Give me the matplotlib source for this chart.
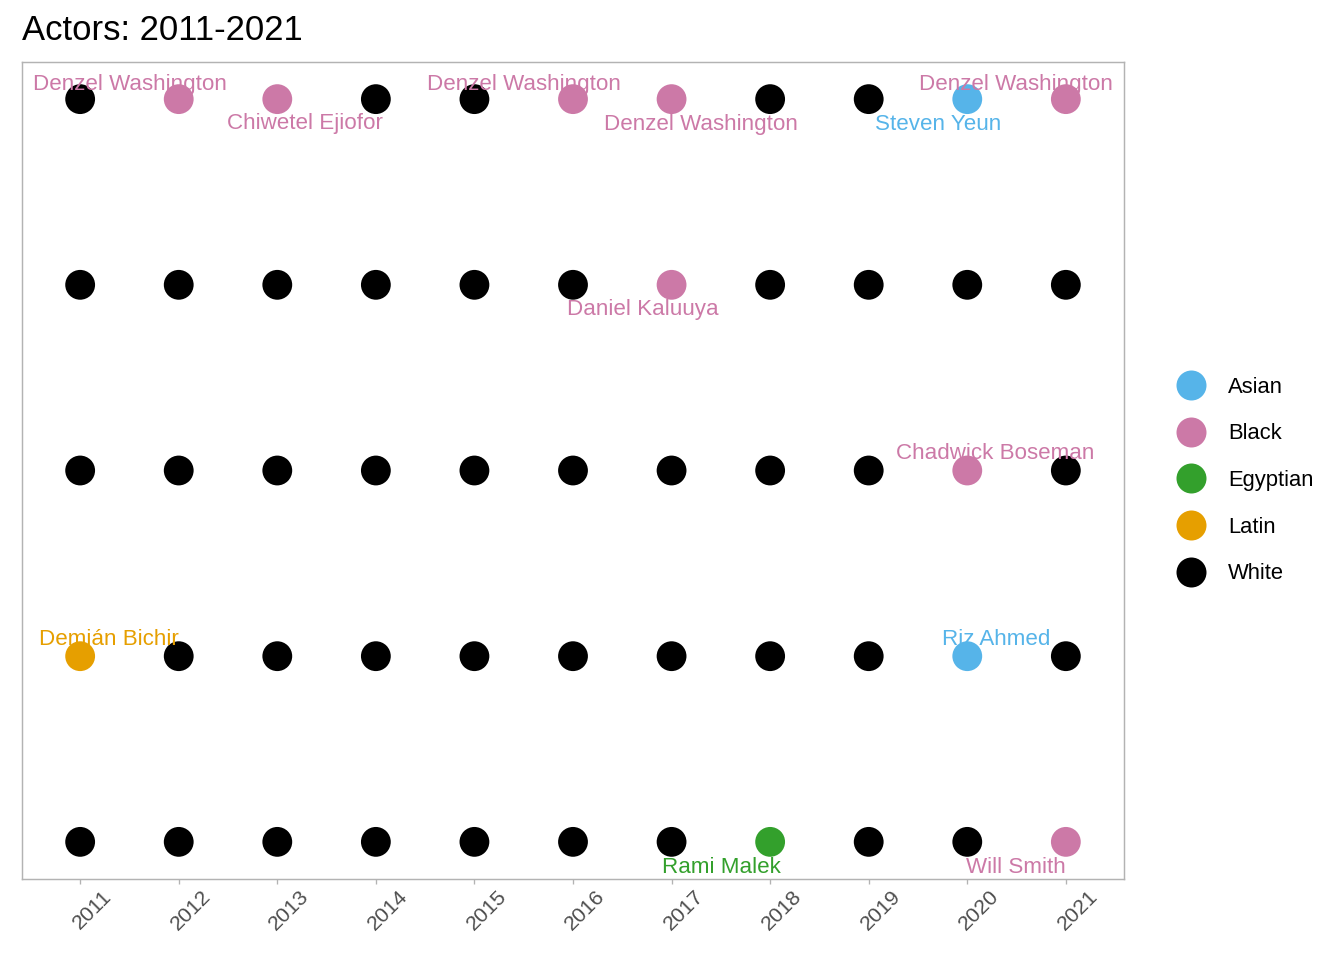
import numpy as np
import matplotlib
matplotlib.use("Agg")
import matplotlib.pyplot as plt
import matplotlib.transforms as mtransforms
from matplotlib.lines import Line2D

plt.rcParams['font.family'] = ['Liberation Sans', 'DejaVu Sans']

years = [2011, 2012, 2013, 2014, 2015, 2016, 2017, 2018, 2019, 2020, 2021]

# race of the 5 nominees per year, listed top row to bottom row
races = [
    ["White", "White", "White", "Latin", "White"],
    ["Black", "White", "White", "White", "White"],
    ["Black", "White", "White", "White", "White"],
    ["White", "White", "White", "White", "White"],
    ["White", "White", "White", "White", "White"],
    ["Black", "White", "White", "White", "White"],
    ["Black", "Black", "White", "White", "White"],
    ["White", "White", "White", "White", "Egyptian"],
    ["White", "White", "White", "White", "White"],
    ["Asian", "White", "Black", "Asian", "White"],
    ["Black", "White", "White", "White", "Black"],
]

# names shown only for non-white nominees
names = [
    ["", "", "", "Demián Bichir", ""],
    ["Denzel Washington", "", "", "", ""],
    ["Chiwetel Ejiofor", "", "", "", ""],
    ["", "", "", "", ""],
    ["", "", "", "", ""],
    ["Denzel Washington", "", "", "", ""],
    ["Denzel Washington", "Daniel Kaluuya", "", "", ""],
    ["", "", "", "", "Rami Malek"],
    ["", "", "", "", ""],
    ["Steven Yeun", "", "Chadwick Boseman", "Riz Ahmed", ""],
    ["Denzel Washington", "", "", "", "Will Smith"],
]

race_levels = ["Asian", "Black", "Egyptian", "Latin", "White"]
race_colors = {"Asian": "#56B4E9", "Black": "#CC79A7", "Egyptian": "#33A02C",
               "Latin": "#E69F00", "White": "#000000"}

# label placement (pixel offsets of the label baseline-centre from its point, like ggrepel left them)
label_offsets = {
    (2011, 3): (28.5, 11), (2012, 0): (-48.5, 9), (2013, 0): (28, -30),
    (2016, 0): (-49, 9), (2017, 0): (29, -31), (2017, 1): (-29, -30),
    (2018, 4): (-49, -31.5), (2020, 0): (-29, -31), (2020, 2): (28, 12),
    (2020, 3): (28.5, 11), (2021, 0): (-50, 9), (2021, 4): (-50, -31),
}

fig = plt.figure(figsize=(14, 10), dpi=96)
ax = fig.add_axes([22/1344, 1-879/960, (1124-22)/1344, (879-62)/960])

xs, ys, cs = [], [], []
for yr, rr in zip(years, races):
    for k, race in enumerate(rr):
        xs.append(yr)
        ys.append(5-k)
        cs.append(race_colors[race])
ax.scatter(xs, ys, s=500, c=cs, linewidths=0, zorder=2)

for yr, nn, rr in zip(years, names, races):
    for k, nm in enumerate(nn):
        if nm == "":
            continue
        dx, dy = label_offsets.get((yr, k), (25, 10))
        ax.annotate(nm, (yr, 5-k), xytext=(dx, dy), textcoords='offset pixels',
                    ha='center', va='baseline', fontsize=16.8,
                    color=race_colors[rr[k]], zorder=3)

ax.set_xlim(years[0]-0.59, years[-1]+0.59)
ax.set_ylim(0.8, 5.2)
ax.set_xticks(years)
ax.tick_params(axis='x', length=3.75, width=1, color='#B3B3B3', pad=2)
ax.set_xticklabels([str(y) for y in years], rotation=45, ha='center', va='top',
                   fontsize=16, color='#4D4D4D')
off = mtransforms.ScaledTranslation(12/96, 0, fig.dpi_scale_trans)
for lab in ax.get_xticklabels():
    lab.set_transform(lab.get_transform() + off)
ax.set_yticks([])
for sp in ax.spines.values():
    sp.set_color('#B3B3B3')
    sp.set_linewidth(1.1)

handles = [Line2D([], [], marker='o', linestyle='none', markersize=22.5,
                  markerfacecolor=race_colors[r], markeredgewidth=0) for r in race_levels]
fig.legend(handles, race_levels, loc='center left', bbox_to_anchor=(1175/1344, 1-480.5/960),
           frameon=False, fontsize=16.5, handlelength=1.45, handletextpad=0.96,
           labelspacing=1.17, borderpad=0, borderaxespad=0)

fig.text(22/1344, 1-40/960, "Actors: 2011-2021", fontsize=26, va='baseline', ha='left')

fig.savefig("out.png", dpi=96)
